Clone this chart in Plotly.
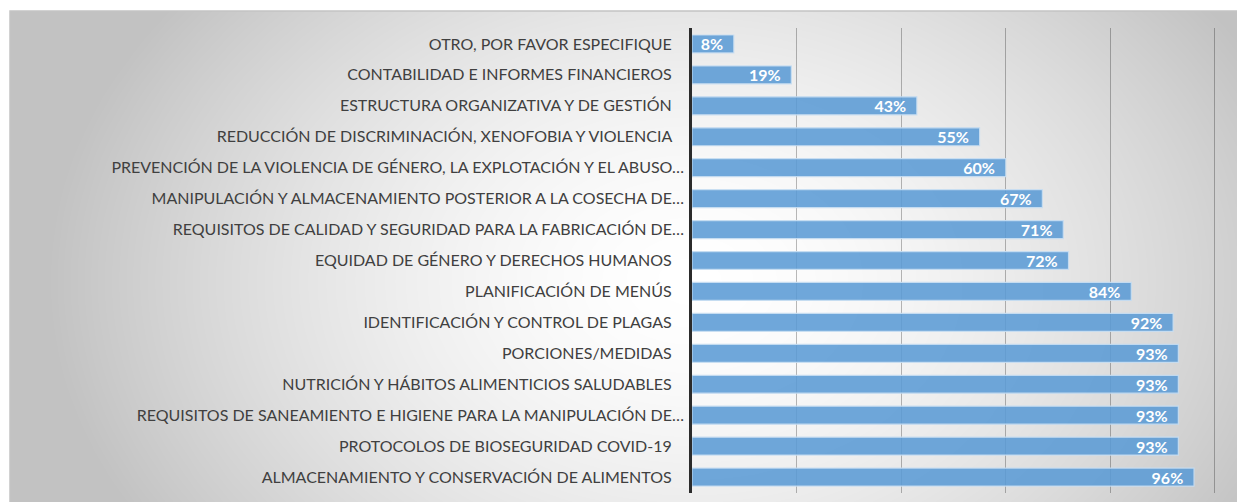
import numpy as np
import plotly.graph_objects as go

categories = [
    "OTRO, POR FAVOR ESPECIFIQUE",
    "CONTABILIDAD E INFORMES FINANCIEROS",
    "ESTRUCTURA ORGANIZATIVA Y DE GESTIÓN",
    "REDUCCIÓN DE DISCRIMINACIÓN, XENOFOBIA Y VIOLENCIA",
    "PREVENCIÓN DE LA VIOLENCIA DE GÉNERO, LA EXPLOTACIÓN Y EL ABUSO…",
    "MANIPULACIÓN Y ALMACENAMIENTO POSTERIOR A LA COSECHA DE…",
    "REQUISITOS DE CALIDAD Y SEGURIDAD PARA LA FABRICACIÓN DE…",
    "EQUIDAD DE GÉNERO Y DERECHOS HUMANOS",
    "PLANIFICACIÓN DE MENÚS",
    "IDENTIFICACIÓN Y CONTROL DE PLAGAS",
    "PORCIONES/MEDIDAS",
    "NUTRICIÓN Y HÁBITOS ALIMENTICIOS SALUDABLES",
    "REQUISITOS DE SANEAMIENTO E HIGIENE PARA LA MANIPULACIÓN DE…",
    "PROTOCOLOS DE BIOSEGURIDAD COVID-19",
    "ALMACENAMIENTO Y CONSERVACIÓN DE ALIMENTOS",
]
values = [8, 19, 43, 55, 60, 67, 71, 72, 84, 92, 93, 93, 93, 93, 96]
value_labels = [f"{v}%" for v in values]

NB = "\u00a0"
tick_text = [c if c.endswith("…") else c + NB * 3 for c in categories]
bar_text = [s + NB * 2 for s in value_labels]

# decorative radial background (not data)
nx, ny = 160, 70
gx = np.linspace(0, 1, nx)
gy = np.linspace(0, 1, ny)
GX, GY = np.meshgrid(gx, gy)
t = np.sqrt(((GX - 0.55) / 0.52) ** 2 + ((GY - 0.45) / 0.95) ** 2)
t = np.clip(t, 0, 1.2)
bg = t ** 1.6

fig = go.Figure()
fig.add_trace(go.Heatmap(
    x=gx, y=gy, z=bg, zsmooth="best", showscale=False, hoverinfo="skip",
    colorscale=[[0, "#ffffff"], [1, "#c2c2c2"]], zmin=0, zmax=1,
    xaxis="x", yaxis="y",
))
fig.add_trace(go.Bar(
    x=values, y=categories, orientation="h",
    xaxis="x2", yaxis="y2",
    marker=dict(color="rgba(91,155,213,0.88)",
                line=dict(color="rgba(200,222,242,0.9)", width=1.2)),
    text=bar_text, textposition="inside", insidetextanchor="end",
    constraintext="none",
    textfont=dict(family="Lato", size=16, color="white", weight="bold"),
    width=0.58,
))

fig.update_layout(
    width=1237, height=494,
    margin=dict(l=2, r=0, t=3, b=0),
    paper_bgcolor="white",
    plot_bgcolor="rgba(0,0,0,0)",
    showlegend=False,
    xaxis=dict(domain=[0, 1], range=[0, 1], visible=False, fixedrange=True),
    yaxis=dict(domain=[0, 1], range=[0, 1], visible=False, fixedrange=True),
    xaxis2=dict(domain=[0.5522, 0.9765], range=[0, 100.2], dtick=20,
                showticklabels=False, showgrid=True,
                gridcolor="rgba(0,0,0,0.27)", gridwidth=1,
                zeroline=False, anchor="y2"),
    yaxis2=dict(domain=[0.0193, 0.9644], autorange="reversed",
                anchor="x2", showline=True, linecolor="#2b2b2b", linewidth=2.5,
                showgrid=False, ticks="", ticklabelstandoff=2,
                tickmode="array", tickvals=categories, ticktext=tick_text,
                tickfont=dict(family="Lato", size=16, color="#404040")),
    shapes=[dict(type="rect", xref="paper", yref="paper",
                 x0=0, x1=1.02, y0=-0.02, y1=1,
                 line=dict(color="#c4c4c4", width=1.5), layer="above")],
)

fig.write_html("out.html")
